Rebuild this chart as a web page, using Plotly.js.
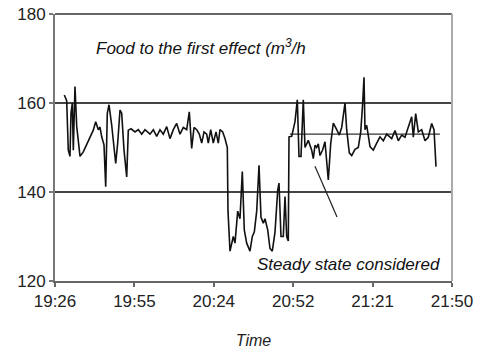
<!DOCTYPE html>
<html>
<head>
<meta charset="utf-8">
<script src="https://cdn.plot.ly/plotly-3.0.1.min.js"></script>
<style>html,body{margin:0;padding:0;background:#fff;}#chart{width:485px;height:354px;}</style>
</head>
<body>
<div id="chart"></div>
<script>
// minutes elapsed since 19:26
const minutes = [3.37,4.24,4.82,5.44,5.80,6.28,6.64,7.25,7.87,8.45,9.07,10.26,11.50,12.70,13.89,14.76,15.71,16.32,16.94,17.77,18.39,18.97,19.59,20.57,21.15,22.02,22.74,23.58,24.19,25.03,26.01,26.59,27.57,29.02,30.21,31.45,32.64,34.46,35.66,36.89,38.09,39.28,40.52,41.71,42.91,44.14,45.34,46.54,47.77,48.71,49.58,50.42,51.40,52.34,53.21,54.05,55.02,55.60,56.48,57.42,58.40,59.23,59.85,60.83,61.66,62.50,62.75,63.48,64.67,65.29,66.27,67.10,67.94,68.66,69.53,70.73,71.57,72.29,73.16,74.00,74.72,75.55,76.17,77.15,77.98,78.82,79.80,80.78,81.25,81.97,82.81,83.43,84.04,84.62,84.88,85.86,87.05,87.89,88.50,89.23,90.06,90.68,91.88,93.11,93.69,94.31,94.92,95.50,96.12,97.10,97.93,99.13,100.00,100.95,102.18,103.12,103.99,105.19,105.80,106.75,107.62,108.82,110.01,110.88,111.61,112.08,112.44,113.06,114.26,115.45,116.69,117.88,119.08,120.31,122.13,123.32,124.52,125.75,126.95,128.15,129.38,129.96,130.83,131.78,133.01,134.21,135.40,136.64,137.47,138.20];
const feed = [161.8,160.5,149.4,148,157.7,160,149.4,163.7,154.8,150.6,148,149,150.6,152,153.9,155.8,154,154.6,152.4,150.6,141.2,157.7,159.6,155,152,146.4,151,158.4,157.7,149.4,143.4,153.9,154.2,153.5,154,153,154,153,154,152.5,154,153,154.7,152,154,155.4,153,154.5,154,158,149.8,154.5,154,153,151,153.5,153,151,154,151,153.5,151,154,153.5,152,150,135.7,126.7,130,128.5,135.7,134,144.6,131.5,128.5,126.7,130,131,135.7,146,134.3,133,134,131.5,127.3,126.7,131,140.4,142,130,130,139,130,129,152.4,152.5,155.8,160.7,148,148,160.7,150,151.6,149.4,147.5,150.5,150,150.8,148.2,149.5,151.3,142.7,150.8,155.5,154,152.8,154.5,160,154,148.8,148.2,149.6,150,153.4,160,165.8,154,155,150.2,149.4,151,152.4,151.5,153,152,153.8,151.5,152.8,152.3,154.7,156.9,152.3,157.6,153.5,154,151.5,152.3,155.4,154,145.7];

const tickMinutes = [0, 28.8, 57.6, 86.4, 115.2, 144];
const tickLabels = ["19:26", "19:55", "20:24", "20:52", "21:21", "21:50"];
const yTicks = [120, 140, 160, 180];

// steady state reference level and pointer
const steadyX = [85.2, 139.6];
const steadyLevel = 153;
const pointerX = [94.3, 102.3];
const pointerY = [145.8, 134.4];

const FONT = "Liberation Sans, Arial, sans-serif";

const traces = [
  {x: steadyX, y: [steadyLevel, steadyLevel], mode: "lines", line: {color: "#333", width: 1.2}, hoverinfo: "skip"},
  {x: minutes, y: feed, mode: "lines", line: {color: "#111", width: 1.6}, hoverinfo: "skip"},
  {x: pointerX, y: pointerY, mode: "lines", line: {color: "#222", width: 1.2}, hoverinfo: "skip"}
];

const layout = {
  width: 485, height: 354,
  margin: {l: 55, r: 33, t: 14, b: 73},
  paper_bgcolor: "#fff", plot_bgcolor: "#fff",
  showlegend: false,
  font: {family: FONT, size: 17, color: "#222"},
  xaxis: {
    range: [0, 144], tickvals: tickMinutes, ticktext: tickLabels,
    showgrid: false, zeroline: false,
    showline: true, linecolor: "#666", linewidth: 2, mirror: false,
    ticks: "outside", ticklen: 4, tickcolor: "#666", tickwidth: 2,
    tickfont: {family: FONT, size: 17, color: "#222"},
    title: {text: "Time", font: {family: FONT, size: 16, color: "#222", style: "italic"}, standoff: 24}
  },
  yaxis: {
    range: [120, 180], tickvals: yTicks,
    showgrid: true, gridcolor: "#444", gridwidth: 2,
    zeroline: false,
    showline: true, linecolor: "#777", linewidth: 2,
    ticks: "outside", ticklen: 4, tickcolor: "#777", tickwidth: 2,
    tickfont: {family: FONT, size: 17, color: "#222"}
  },
  shapes: [
    {type: "line", xref: "paper", yref: "paper", x0: 0, x1: 1, y0: 1, y1: 1, line: {color: "#666", width: 2}},
    {type: "line", xref: "paper", yref: "paper", x0: 1, x1: 1, y0: 0, y1: 1, line: {color: "#aaa", width: 2}}
  ],
  annotations: [
    {x: 0.098, y: 0.875, xref: "paper", yref: "paper", xanchor: "left", yanchor: "middle", showarrow: false,
     text: "Food to the first effect (m<sup>3</sup>/h", font: {family: FONT, size: 17, color: "#111", style: "italic"}},
    {x: 0.975, y: 0.06, xref: "paper", yref: "paper", xanchor: "right", yanchor: "middle", showarrow: false,
     text: "Steady state considered", font: {family: FONT, size: 17, color: "#111", style: "italic"}}
  ]
};

Plotly.newPlot("chart", traces, layout, {displayModeBar: false, staticPlot: true});
</script>
</body>
</html>
